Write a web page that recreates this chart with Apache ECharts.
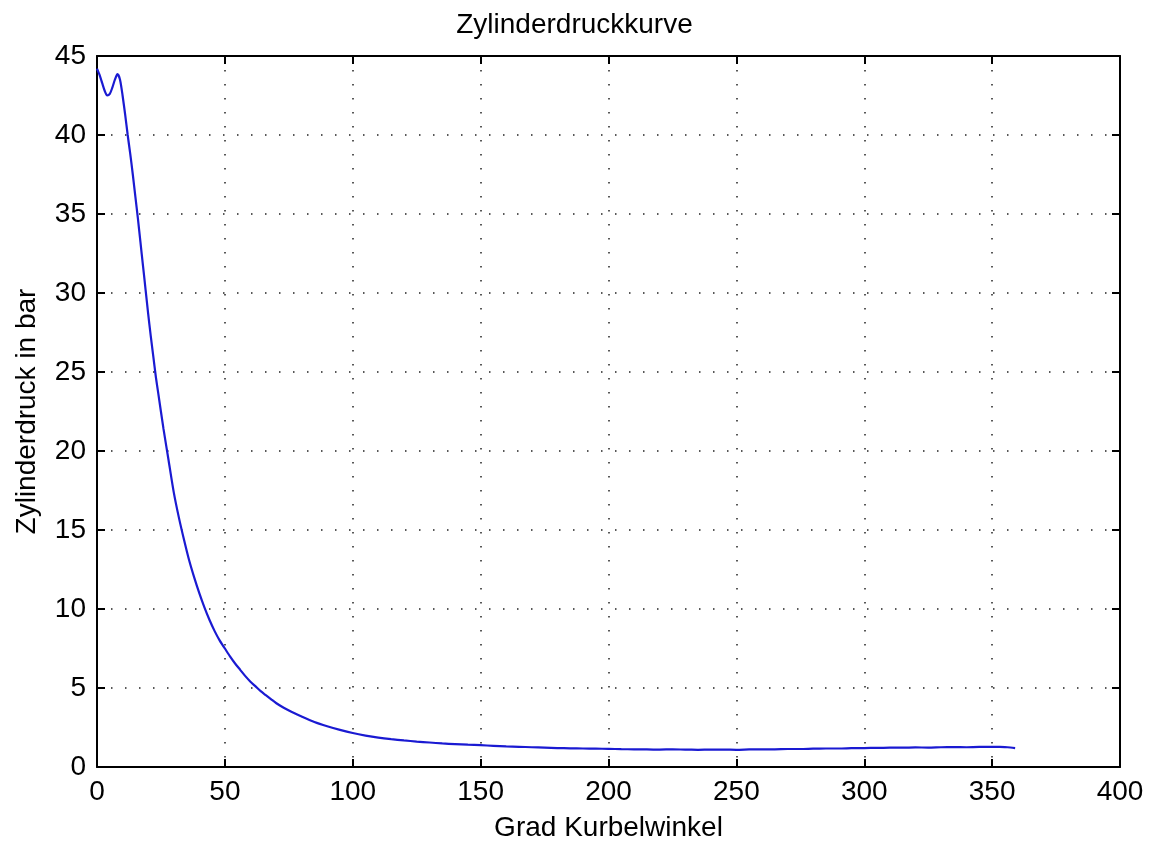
<!DOCTYPE html>
<html>
<head>
<meta charset="utf-8">
<script src="https://cdn.jsdelivr.net/npm/echarts@6/dist/echarts.min.js"></script>
<style>
  html, body { margin: 0; padding: 0; background: #fff; }
  #chart { width: 1149px; height: 847px; }
</style>
</head>
<body>
<div id="chart"></div>
<script>
// Crank angle in degrees
const crankAngle = [
  0, 1, 2, 3, 4, 5, 6, 7, 8, 9, 10, 11, 12, 13, 14, 15, 16, 17, 18, 19,
  20, 21, 22, 23, 24, 26, 28, 30, 32, 34, 36, 38, 40, 42, 44, 46, 48, 50,
  52, 54, 56, 58, 60, 62, 64, 66, 68, 70, 73, 76, 80, 85, 90, 95, 100, 105, 110, 115, 120,
  125, 130, 135, 140, 145, 150, 155, 160, 165, 170, 175, 180, 185, 190,
  195, 200, 205, 210, 215, 220, 225, 230, 235, 240, 245, 250, 255, 260,
  265, 270, 275, 280, 285, 290, 295, 300, 305, 310, 315, 320, 325, 330,
  335, 340, 345, 350, 353, 356, 359
];
// Cylinder pressure in bar
const pressure = [
  44.2, 43.8, 43.3, 42.8, 42.5, 42.6, 43.0, 43.5, 43.85, 43.5, 42.5, 41.3, 40.0, 38.8, 37.5, 36.1, 34.7, 33.2, 31.7, 30.2,
  28.7, 27.3, 26.0, 24.7, 23.6, 21.4, 19.4, 17.4, 15.8, 14.4, 13.1, 12.0, 11.0, 10.1, 9.3, 8.6, 8.0, 7.5,
  7.0, 6.55, 6.15, 5.75, 5.4, 5.1, 4.8, 4.55, 4.3, 4.05, 3.75, 3.5, 3.2, 2.85, 2.58, 2.35, 2.15, 1.99, 1.86, 1.76, 1.68,
  1.61, 1.55, 1.49, 1.45, 1.41, 1.38, 1.34, 1.30, 1.28, 1.25, 1.23, 1.20, 1.18, 1.17,
  1.16, 1.15, 1.13, 1.12, 1.11, 1.10, 1.12, 1.10, 1.09, 1.10, 1.10, 1.09, 1.11, 1.12,
  1.12, 1.14, 1.14, 1.16, 1.17, 1.17, 1.19, 1.20, 1.21, 1.22, 1.22, 1.24, 1.23, 1.25,
  1.26, 1.25, 1.27, 1.27, 1.28, 1.25, 1.20
];
const xTicks = { min: 0, max: 400, interval: 50 };
const yTicks = { min: 0, max: 45, interval: 5 };

const chart = echarts.init(document.getElementById('chart'));
const FONT = 'Liberation Sans';
const FS = 28;
const dotted = { color: '#222', width: 1.5, type: [1.5, 12.5] };
const frameLine = { show: true, onZero: false, lineStyle: { color: '#000', width: 2 } };
const innerTick = { show: true, inside: true, length: 8, lineStyle: { color: '#000', width: 2 } };

chart.setOption({
  backgroundColor: '#fff',
  animation: false,
  title: {
    text: 'Zylinderdruckkurve',
    left: 'center',
    top: 6,
    textStyle: { fontFamily: FONT, fontSize: FS, fontWeight: 'normal', color: '#000' }
  },
  grid: { left: 97, right: 29, top: 56, bottom: 77, containLabel: false },
  xAxis: [
    {
      type: 'value', position: 'bottom',
      min: xTicks.min, max: xTicks.max, interval: xTicks.interval,
      name: 'Grad Kurbelwinkel', nameLocation: 'middle', nameGap: 47,
      nameTextStyle: { fontFamily: FONT, fontSize: FS, color: '#000' },
      axisLine: frameLine, axisTick: innerTick,
      axisLabel: { fontFamily: FONT, fontSize: FS, color: '#000', margin: 11 },
      splitLine: { show: true, lineStyle: dotted }
    },
    {
      type: 'value', position: 'top',
      min: xTicks.min, max: xTicks.max, interval: xTicks.interval,
      axisLine: frameLine, axisTick: innerTick,
      axisLabel: { show: false },
      splitLine: { show: false }
    }
  ],
  yAxis: [
    {
      type: 'value', position: 'left',
      min: yTicks.min, max: yTicks.max, interval: yTicks.interval,
      name: 'Zylinderdruck in bar', nameLocation: 'middle', nameGap: 56, nameRotate: 90,
      nameTextStyle: { fontFamily: FONT, fontSize: FS, color: '#000' },
      axisLine: frameLine, axisTick: innerTick,
      axisLabel: { fontFamily: FONT, fontSize: FS, color: '#000', margin: 11 },
      splitLine: { show: true, lineStyle: dotted }
    },
    {
      type: 'value', position: 'right',
      min: yTicks.min, max: yTicks.max, interval: yTicks.interval,
      axisLine: frameLine, axisTick: innerTick,
      axisLabel: { show: false },
      splitLine: { show: false }
    }
  ],
  series: [{
    type: 'line',
    xAxisIndex: 0, yAxisIndex: 0,
    data: crankAngle.map((a, i) => [a, pressure[i]]),
    showSymbol: false,
    smooth: 0.25,
    lineStyle: { color: '#1a1ad2', width: 2.2 },
    z: 3
  }]
});
</script>
</body>
</html>
